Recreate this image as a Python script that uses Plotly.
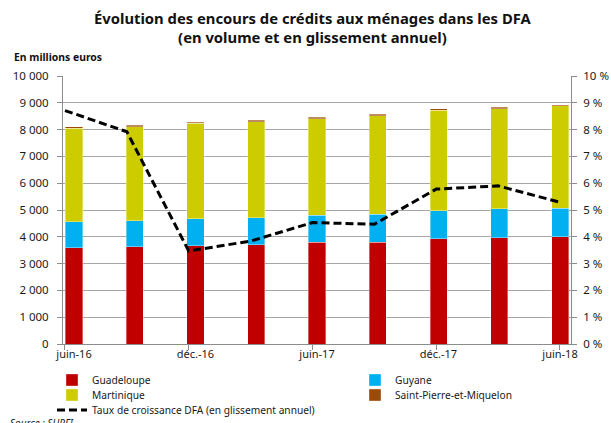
import plotly.graph_objects as go

categories = ["juin-16", "sept.-16", "déc.-16", "mars-17", "juin-17",
              "sept.-17", "déc.-17", "mars-18", "juin-18"]
tick_labels = ["juin-16", "déc.-16", "juin-17", "déc.-17", "juin-18"]

guadeloupe = [3595, 3630, 3670, 3705, 3795, 3795, 3920, 3970, 4005]
guyane = [970, 970, 995, 1010, 1010, 1045, 1055, 1070, 1060]
martinique = [3480, 3510, 3570, 3585, 3605, 3680, 3745, 3735, 3820]
spm = [55, 60, 40, 50, 50, 60, 50, 60, 50]
taux = [8.71, 7.92, 3.47, 3.84, 4.53, 4.47, 5.78, 5.90, 5.29]

FONT = "Noto Sans"
GRID = "#A6A6A6"
AXIS = "#8C8C8C"

fig = go.Figure()
bar_specs = [
    ("Guadeloupe", guadeloupe, "#C00000", "legend2"),
    ("Guyane", guyane, "#00B0F0", "legend3"),
    ("Martinique", martinique, "#CCCC00", "legend4"),
    ("Saint-Pierre-et-Miquelon", spm, "#9C4A06", "legend5"),
]
for name, vals, col, lg in bar_specs:
    fig.add_trace(go.Bar(
        x=categories, y=vals, name=name, marker_color=col,
        marker_line=dict(width=0.6, color="rgba(255,255,255,0.6)"),
        width=0.28, legend=lg, xaxis="x", yaxis="y", showlegend=True,
    ))

fig.add_trace(go.Scatter(
    x=categories, y=taux, name="Taux de croissance DFA (en glissement annuel)",
    mode="lines", line=dict(color="black", width=3, dash="8px,4px"),
    xaxis="x2", yaxis="y2", legend="legend6", showlegend=True,
))

W, H = 611, 423
L, R, T, B = 63, 40, 76, 79
pw, ph = W - L - R, H - T - B

def px_x(p):
    return (p - L) / pw

def px_y(p):
    return (H - B - p) / ph

legend_common = dict(bgcolor="rgba(0,0,0,0)", font=dict(family=FONT, size=10.2, color="#1a1a1a"),
                     xanchor="left", yanchor="middle", orientation="v")

fig.update_layout(
    width=W, height=H,
    margin=dict(l=L, r=R, t=T, b=B, autoexpand=False),
    paper_bgcolor="white", plot_bgcolor="white",
    barmode="stack",
    separators=", ",
    showlegend=True,
    font=dict(family=FONT, size=11, color="#1a1a1a"),
    xaxis=dict(
        type="category", range=[-0.181, 8.181],
        tickmode="array", tickvals=categories[::2], ticktext=tick_labels,
        ticks="", showline=True, linecolor=AXIS, linewidth=1,
        showgrid=False, tickfont=dict(family=FONT, size=11, color="#1a1a1a"),
    ),
    xaxis2=dict(
        type="category", overlaying="x", anchor="y", side="bottom",
        range=[-0.032, 8.178], showticklabels=False, showgrid=False,
        tickmode="linear", tick0=-0.032, dtick=1.988,
        ticks="outside", ticklen=5, tickcolor=AXIS, showline=False,
    ),
    yaxis=dict(
        range=[0, 10000], dtick=1000, tickformat=",d",
        showgrid=True, gridcolor=GRID, gridwidth=1,
        showline=True, linecolor=AXIS, linewidth=1,
        ticks="outside", ticklen=5, tickcolor=AXIS, ticklabelstandoff=6,
        zeroline=False, tickfont=dict(family=FONT, size=11.5, color="#1a1a1a"),
    ),
    yaxis2=dict(
        range=[0, 10], dtick=1, ticksuffix=" %", overlaying="y", side="right",
        showgrid=False, showline=True, linecolor=AXIS, linewidth=1,
        ticks="outside", ticklen=5, tickcolor=AXIS, ticklabelstandoff=4,
        zeroline=False, tickfont=dict(family=FONT, size=11.5, color="#1a1a1a"),
    ),
    legend2=dict(x=px_x(52), y=px_y(380), **legend_common),
    legend3=dict(x=px_x(355), y=px_y(380), **legend_common),
    legend4=dict(x=px_x(52), y=px_y(395), **legend_common),
    legend5=dict(x=px_x(355), y=px_y(395), **legend_common),
    legend6=dict(x=px_x(52), y=px_y(410), **legend_common),
    annotations=[
        dict(text="<b>Évolution des encours de crédits aux ménages dans les DFA<br>(en volume et en glissement annuel)</b>",
             xref="paper", yref="paper", x=px_x(313), y=px_y(6),
             xanchor="center", yanchor="top", showarrow=False,
             font=dict(family=FONT, size=14.8, color="#111111")),
        dict(text="<b>En millions euros</b>", xref="paper", yref="paper",
             x=px_x(12), y=px_y(57), xanchor="left", yanchor="middle",
             showarrow=False, font=dict(family=FONT, size=10.4, color="#111111")),
        dict(text="<i>Source : SURFI</i>", xref="paper", yref="paper",
             x=px_x(8), y=px_y(414), xanchor="left", yanchor="top",
             showarrow=False, font=dict(family=FONT, size=10, color="#1a1a1a")),
    ],
)

fig.write_html("out.html", config={"displayModeBar": False},
               post_script="document.body.style.margin='0';document.body.style.padding='0';")
